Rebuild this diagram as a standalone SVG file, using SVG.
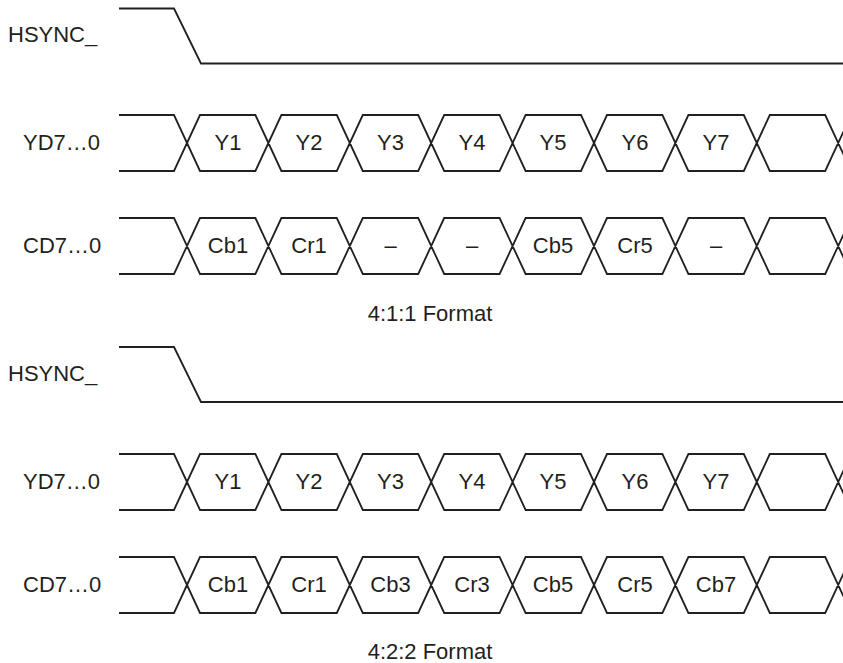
<svg xmlns="http://www.w3.org/2000/svg" width="843" height="663" viewBox="0 0 843 663">
<style>
.w{fill:none;stroke:#231f20;stroke-width:1.8;stroke-linejoin:miter}
text{font-family:"Liberation Sans",Arial,sans-serif;font-size:22px;fill:#231f20}
.c{text-anchor:middle}
</style>
<defs>
<path id="bus" class="w" d="M119,0 H174 L200,56 H255.4 L281.4,0 H336.8 L362.8,56 H418.2 L444.2,0 H499.6 L525.6,56 H581 L607,0 H662.4 L688.4,56 H743.8 L769.8,0 H825.2 L851.2,56 M119,56 H174 L200,0 H255.4 L281.4,56 H336.8 L362.8,0 H418.2 L444.2,56 H499.6 L525.6,0 H581 L607,56 H662.4 L688.4,0 H743.8 L769.8,56 H825.2 L851.2,0"/>
<path id="hs" class="w" d="M119,0 H174 L201,55 H843"/>
</defs>
<rect width="843" height="663" fill="#fff"/>
<g id="waves">
<use href="#hs" transform="translate(0,8.5)"/>
<use href="#bus" transform="translate(0,115)"/>
<use href="#bus" transform="translate(0,218)"/>
<use href="#hs" transform="translate(0,347)"/>
<use href="#bus" transform="translate(0,454)"/>
<use href="#bus" transform="translate(0,557)"/>
</g>
<g id="signal-labels">
<text x="8" y="42">HSYNC_</text>
<text x="23" y="150">YD7…0</text>
<text x="23" y="253">CD7…0</text>
<text x="8" y="381">HSYNC_</text>
<text x="23" y="489">YD7…0</text>
<text x="23" y="592">CD7…0</text>
</g>
<g id="yd1">
<text class="c" x="228" y="150">Y1</text>
<text class="c" x="309" y="150">Y2</text>
<text class="c" x="390.5" y="150">Y3</text>
<text class="c" x="472" y="150">Y4</text>
<text class="c" x="553" y="150">Y5</text>
<text class="c" x="635" y="150">Y6</text>
<text class="c" x="716" y="150">Y7</text>
</g>
<g id="cd1">
<text class="c" x="228" y="253">Cb1</text>
<text class="c" x="309" y="253">Cr1</text>
<text class="c" x="390.5" y="253">–</text>
<text class="c" x="472" y="253">–</text>
<text class="c" x="553" y="253">Cb5</text>
<text class="c" x="635" y="253">Cr5</text>
<text class="c" x="716" y="253">–</text>
</g>
<text id="cap1" class="c" x="430" y="321">4:1:1 Format</text>
<g id="yd2">
<text class="c" x="228" y="489">Y1</text>
<text class="c" x="309" y="489">Y2</text>
<text class="c" x="390.5" y="489">Y3</text>
<text class="c" x="472" y="489">Y4</text>
<text class="c" x="553" y="489">Y5</text>
<text class="c" x="635" y="489">Y6</text>
<text class="c" x="716" y="489">Y7</text>
</g>
<g id="cd2">
<text class="c" x="228" y="592">Cb1</text>
<text class="c" x="309" y="592">Cr1</text>
<text class="c" x="390.5" y="592">Cb3</text>
<text class="c" x="472" y="592">Cr3</text>
<text class="c" x="553" y="592">Cb5</text>
<text class="c" x="635" y="592">Cr5</text>
<text class="c" x="716" y="592">Cb7</text>
</g>
<text id="cap2" class="c" x="430" y="659">4:2:2 Format</text>
</svg>
